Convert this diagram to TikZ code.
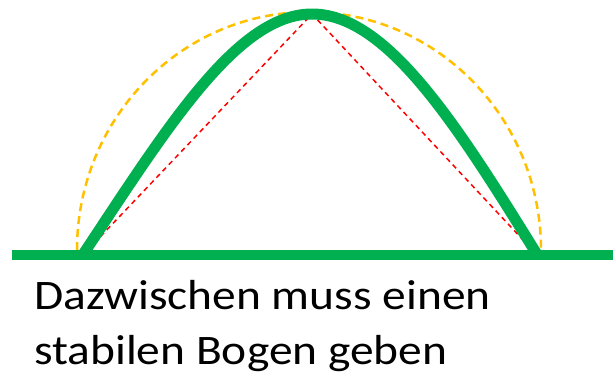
\documentclass[tikz,border=0pt]{standalone}
\usepackage{fontspec}
\setmainfont{Carlito}[FakeStretch=1.13]
\definecolor{archgreen}{HTML}{00B050}
\definecolor{circleorange}{HTML}{FFC000}
\begin{document}
\begin{tikzpicture}[x=1pt,y=-1pt,
  ground/.style={draw=archgreen, line width=10pt},
  arch/.style={draw=archgreen, line width=11pt},
  halfcircle/.style={draw=circleorange, line width=2.5pt, dash pattern=on 8pt off 5pt},
  triangle/.style={draw=red, line width=1.5pt, dash pattern=on 5pt off 4pt}]
\useasboundingbox (0,0) rectangle (613,376);
% Feet and top of the arch
\coordinate (footL) at (82,256);
\coordinate (top) at (312,14);
\coordinate (footR) at (538,256);
\coordinate (groundL) at (12,255);
\coordinate (groundR) at (613,255);
% Dashed half circle
\draw[halfcircle] (77,250) arc[start angle=180, end angle=360, x radius=232, y radius=238];
% Dashed triangle
\draw[triangle] (footL) -- (top) -- (footR);
% Arch
\draw[arch] (footL) .. controls (167,128) and (237,14) .. (top)
  .. controls (387,14) and (457,125) .. (footR);
% Ground
\draw[ground] (groundL) -- (groundR);
% Text
\node[anchor=base west, inner sep=0pt, align=left,
  font=\fontsize{42}{55}\selectfont] (label) at (34,364)
  {Dazwischen muss einen\\stabilen Bogen geben};
\end{tikzpicture}
\end{document}
